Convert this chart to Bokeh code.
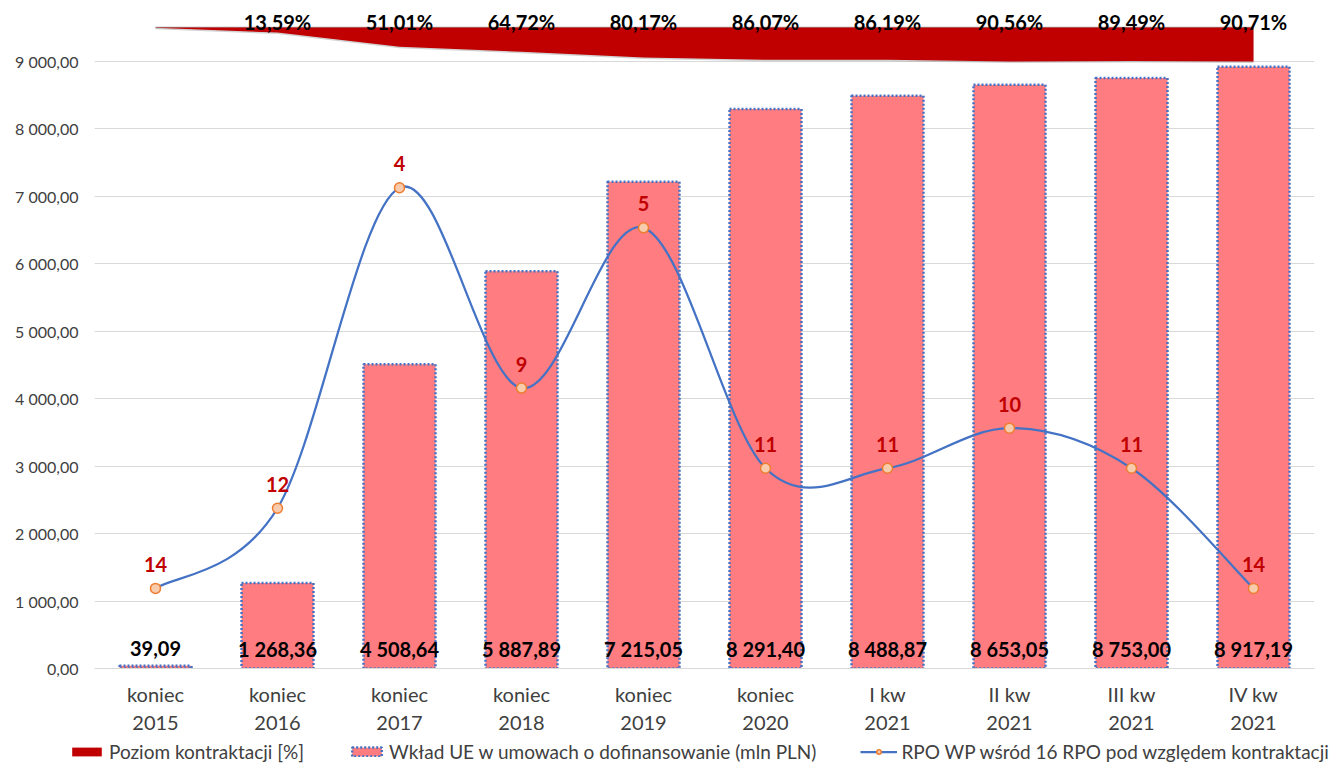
from bokeh.plotting import figure
from bokeh.models import Range1d, ColumnDataSource, FixedTicker, Legend, LegendItem
from bokeh.embed import file_html
from bokeh.resources import INLINE
from bokeh.core.properties import value

# ---------------- data ----------------
categories = ["koniec\n2015", "koniec\n2016", "koniec\n2017", "koniec\n2018", "koniec\n2019",
              "koniec\n2020", "I kw\n2021", "II kw\n2021", "III kw\n2021", "IV kw\n2021"]
wklad = [39.09, 1268.36, 4508.64, 5887.89, 7215.05, 8291.40, 8488.87, 8653.05, 8753.00, 8917.19]
poziom = [0.40, 13.59, 51.01, 64.72, 80.17, 86.07, 86.19, 90.56, 89.49, 90.71]
poziom_labels = ["", "13,59%", "51,01%", "64,72%", "80,17%", "86,07%", "86,19%", "90,56%", "89,49%", "90,71%"]
ranking = [14, 12, 4, 9, 5, 11, 11, 10, 11, 14]
y_ticks = [0, 1000, 2000, 3000, 4000, 5000, 6000, 7000, 8000, 9000]
legend_labels = ["Poziom kontraktacji [%]",
                 "Wkład UE w umowach o dofinansowanie (mln PLN)",
                 "RPO WP wśród 16 RPO pod względem kontraktacji"]

FONT = "Lato"
RED = "#C00000"
BAR = "#FF7C80"
BLUE = "#4472C4"


def pl(v):
    return f"{v:,.2f}".replace(",", " ").replace(".", ",")


n = len(categories)
xs = list(range(n))

Y_END = 9782
RANK_ZERO = 9500      # primary value where rank 0 / 0% sits
PCT_SPAN = 555        # primary units per 100 %
W = 1324
H = 741
TOP = 8
BOTTOM = 73

p = figure(width=W, height=H, output_backend="svg", toolbar_location=None,
           x_range=Range1d(-0.5, n - 0.5), y_range=Range1d(0, Y_END),
           min_border_left=94, min_border_right=10, min_border_top=TOP, min_border_bottom=BOTTOM)
p.extra_y_ranges = {
    "rank": Range1d(start=16, end=16 - 16 * Y_END / RANK_ZERO),
    "pct": Range1d(start=RANK_ZERO / PCT_SPAN * 100, end=(RANK_ZERO - Y_END) / PCT_SPAN * 100),
}
p.outline_line_color = None
p.background_fill_color = "white"
p.border_fill_color = "white"

# grid / axes
p.xgrid.grid_line_color = None
p.ygrid.grid_line_color = "#D9D9D9"
p.ygrid.grid_line_width = 1
p.yaxis.ticker = FixedTicker(ticks=y_ticks)
p.yaxis.major_label_overrides = {t: pl(t) for t in y_ticks}
p.yaxis.axis_line_color = None
p.yaxis.major_tick_line_color = None
p.yaxis.minor_tick_line_color = None
p.yaxis.major_label_text_font = FONT
p.yaxis.major_label_text_font_size = "16px"
p.yaxis.major_label_text_color = "#404040"
p.yaxis.major_label_standoff = 10

p.xaxis.ticker = FixedTicker(ticks=xs)
p.xaxis.major_label_overrides = {i: c for i, c in enumerate(categories)}
p.xaxis.axis_line_color = "#D9D9D9"
p.xaxis.major_tick_line_color = None
p.xaxis.minor_tick_line_color = None
p.xaxis.major_label_text_font = FONT
p.xaxis.major_label_text_font_size = "20px"
p.xaxis.major_label_text_color = "#404040"
p.xaxis.major_label_standoff = 7

# ---------- data source ----------
src = ColumnDataSource(dict(x=xs, wklad=wklad, lab=[pl(v) for v in wklad],
                            poziom=poziom, shadow=[v + 4 for v in poziom],
                            plab=poziom_labels, rank=ranking,
                            rlab=[str(r) for r in ranking], zero=[0] * n))

# ---------- bars ----------
p.vbar(x="x", top="wklad", width=0.59, source=src, fill_color=BAR,
       line_color=BLUE, line_width=2.5, line_dash="2 2")

# ---------- contracting level (area at the top, reversed axis) ----------
p.varea(x="x", y1="zero", y2="shadow", source=src, y_range_name="pct",
        fill_color="#7F7F7F", fill_alpha=0.35)
p.line(x="x", y="zero", source=src, y_range_name="pct", line_color="#A0A0A0",
       line_width=1.5)
p.varea(x="x", y1="zero", y2="poziom", source=src, y_range_name="pct", fill_color=RED)

# ---------- ranking line (smoothed) ----------
bx0, by0, bx1, by1, cx0, cy0, cx1, cy1 = [], [], [], [], [], [], [], []
for i in range(n - 1):
    a = max(i - 1, 0)
    d = min(i + 2, n - 1)
    bx0.append(xs[i]); by0.append(ranking[i])
    bx1.append(xs[i + 1]); by1.append(ranking[i + 1])
    cx0.append(xs[i] + (xs[i + 1] - xs[a]) / 6); cy0.append(ranking[i] + (ranking[i + 1] - ranking[a]) / 6)
    cx1.append(xs[i + 1] - (xs[d] - xs[i]) / 6); cy1.append(ranking[i + 1] - (ranking[d] - ranking[i]) / 6)
p.bezier(x0=bx0, y0=by0, x1=bx1, y1=by1, cx0=cx0, cy0=cy0, cx1=cx1, cy1=cy1,
         y_range_name="rank", line_color=BLUE, line_width=2.25)
p.scatter(x="x", y="rank", source=src, y_range_name="rank", size=10,
          fill_color="#F8CBAD", line_color="#ED7D31", line_width=1.5)

# ---------- labels ----------
p.text(x="x", y="zero", text="lab", source=src, text_align="center", text_baseline="middle",
       y_offset=-20, text_font=value(FONT), text_font_style="bold", text_font_size="20px",
       text_color="black")
p.text(x="x", y="zero", text="plab", source=src, y_range_name="pct", text_align="center",
       text_baseline="middle", y_offset=-6, text_font=value(FONT), text_font_style="bold",
       text_font_size="20px", text_color="black")
p.text(x="x", y="rank", text="rlab", source=src, y_range_name="rank", text_align="center",
       text_baseline="middle", y_offset=-24, text_font=value(FONT), text_font_style="bold",
       text_font_size="20px", text_color=RED)

# ---------- legend (separate strip below the chart, own root) ----------
lf = figure(width=1332, height=22, output_backend="svg", toolbar_location=None,
            x_range=Range1d(0, 1), y_range=Range1d(0, 1),
            x_axis_location=None, y_axis_location=None,
            min_border_left=0, min_border_right=0, min_border_top=0, min_border_bottom=0)
lf.grid.visible = False
lf.outline_line_color = None
nan = float("nan")
r_area = lf.varea(x=[nan, nan], y1=[nan, nan], y2=[nan, nan], fill_color=RED)
r_bar = lf.vbar(x=[nan], top=[nan], width=0.5, fill_color=BAR, line_color=BLUE,
                line_width=2.5, line_dash="2 2")
r_line = lf.line(x=[nan], y=[nan], line_color=BLUE, line_width=2.25)
r_pt = lf.scatter(x=[nan], y=[nan], size=9, fill_color="#F8CBAD", line_color="#ED7D31",
                  line_width=1.5)
legend = Legend(items=[
    LegendItem(label=legend_labels[0], renderers=[r_area]),
    LegendItem(label=legend_labels[1], renderers=[r_bar]),
    LegendItem(label=legend_labels[2], renderers=[r_line, r_pt]),
], orientation="horizontal", location=(68, 0), border_line_color=None,
    background_fill_alpha=0, label_text_font=FONT, label_text_font_size="19px",
    label_text_color="#404040", glyph_width=37, glyph_height=11, label_height=20,
    label_standoff=4, spacing=44, padding=0, margin=0)
lf.add_layout(legend, "center")

open("out.html", "w").write(file_html([p, lf], INLINE))
